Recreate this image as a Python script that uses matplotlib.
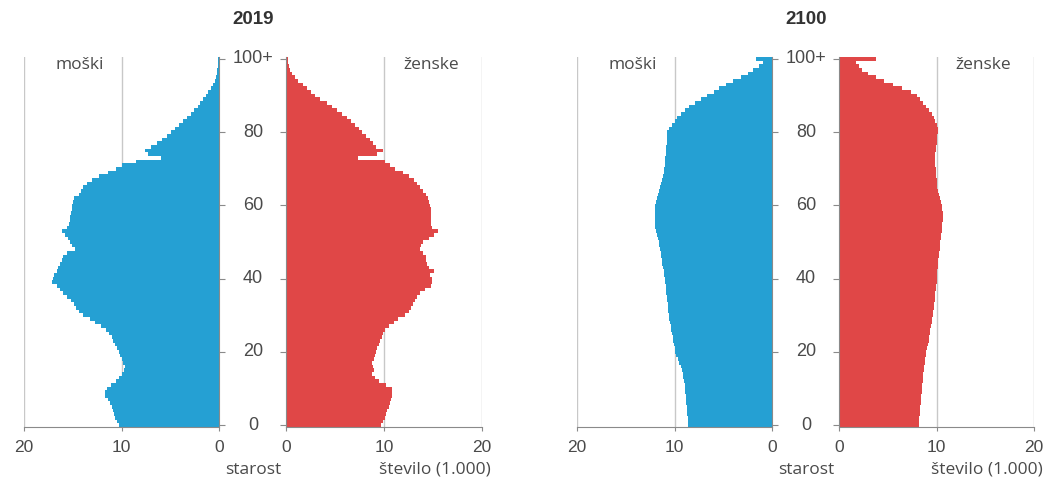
import matplotlib
matplotlib.use("Agg")
import matplotlib.pyplot as plt
import matplotlib.transforms as mtransforms
import numpy as np

# ---------------- data (thousands of persons by single year of age) -------------
ages = list(range(0, 101))
age_tick_values = [0, 20, 40, 60, 80, 100]
age_tick_labels = ["0", "20", "40", "60", "80", "100+"]
count_ticks = [0, 10, 20]
count_tick_labels = ["0", "10", "20"]
years = ["2019", "2100"]

men_2019 = [
    10.3, 10.5, 10.7, 10.8, 10.9, 11.0, 11.2, 11.4, 11.7, 11.7,
    11.5, 11.1, 10.6, 10.3, 10.0, 9.7, 9.6, 9.8, 10.0, 10.2,
    10.3, 10.5, 10.7, 10.9, 11.0, 11.3, 11.6, 12.1, 12.7, 13.2,
    13.9, 14.4, 14.7, 14.9, 15.2, 15.6, 16.0, 16.3, 16.6, 17.1,
    17.0, 16.9, 16.6, 16.5, 16.3, 16.1, 16.0, 15.6, 14.8, 15.1,
    15.3, 15.5, 15.8, 16.1, 15.6, 15.4, 15.3, 15.3, 15.2, 15.1,
    15.1, 15.0, 14.9, 14.4, 14.2, 13.9, 13.5, 13.0, 12.3, 11.4,
    10.6, 9.9, 8.5, 6.0, 7.3, 7.6, 7.0, 6.4, 5.8, 5.3,
    4.9, 4.5, 4.1, 3.7, 3.3, 2.9, 2.6, 2.2, 1.9, 1.6,
    1.3, 1.1, 0.85, 0.65, 0.4, 0.3, 0.25, 0.2, 0.15, 0.1,
    0.15,
]
women_2019 = [
    9.7, 9.9, 10.1, 10.2, 10.3, 10.5, 10.6, 10.7, 10.8, 10.8,
    10.8, 10.2, 9.5, 9.1, 8.8, 9.0, 8.9, 8.8, 9.0, 9.1,
    9.2, 9.3, 9.5, 9.6, 9.8, 9.9, 10.1, 10.5, 11.0, 11.4,
    12.1, 12.5, 12.8, 13.0, 13.2, 13.4, 13.7, 14.2, 14.8, 14.9,
    14.9, 14.7, 15.1, 14.6, 14.4, 14.3, 14.3, 14.0, 13.7, 13.8,
    14.0, 14.6, 15.1, 15.5, 14.9, 14.8, 14.8, 14.8, 14.8, 14.8,
    14.7, 14.6, 14.5, 14.3, 14.0, 13.7, 13.4, 13.1, 12.6, 11.9,
    11.1, 10.6, 10.1, 7.3, 9.3, 9.9, 9.2, 8.9, 8.6, 8.2,
    7.8, 7.4, 7.0, 6.6, 6.2, 5.7, 5.2, 4.7, 4.2, 3.5,
    3.0, 2.5, 2.1, 1.7, 1.2, 0.9, 0.65, 0.45, 0.3, 0.2,
    0.2,
]
men_2100 = [
    8.6, 8.6, 8.65, 8.7, 8.7, 8.75, 8.8, 8.8, 8.85, 8.9,
    8.9, 8.95, 9.0, 9.1, 9.15, 9.2, 9.35, 9.5, 9.65, 9.8,
    9.9, 10.0, 10.1, 10.15, 10.2, 10.3, 10.35, 10.4, 10.5, 10.55,
    10.6, 10.65, 10.7, 10.7, 10.75, 10.8, 10.85, 10.9, 10.9, 10.95,
    11.0, 11.05, 11.1, 11.2, 11.25, 11.3, 11.35, 11.4, 11.5, 11.55,
    11.6, 11.7, 11.8, 11.9, 11.95, 12.0, 12.05, 12.05, 12.05, 12.0,
    12.0, 11.9, 11.8, 11.7, 11.6, 11.5, 11.4, 11.3, 11.15, 11.1,
    11.05, 11.0, 11.0, 10.95, 10.9, 10.85, 10.85, 10.8, 10.8, 10.75,
    10.75, 10.55, 10.3, 10.0, 9.7, 9.3, 8.9, 8.5, 7.9, 7.3,
    6.7, 6.0, 5.4, 4.7, 4.0, 3.2, 2.5, 2.0, 1.3, 0.9,
    1.6,
]
women_2100 = [
    8.2, 8.2, 8.25, 8.3, 8.3, 8.35, 8.4, 8.4, 8.45, 8.5,
    8.5, 8.55, 8.6, 8.6, 8.65, 8.7, 8.75, 8.8, 8.85, 8.9,
    8.95, 9.0, 9.1, 9.2, 9.25, 9.3, 9.35, 9.45, 9.5, 9.55,
    9.6, 9.65, 9.7, 9.75, 9.8, 9.8, 9.85, 9.9, 9.95, 10.0,
    10.0, 10.05, 10.1, 10.15, 10.2, 10.2, 10.25, 10.3, 10.35, 10.4,
    10.4, 10.45, 10.5, 10.55, 10.6, 10.6, 10.65, 10.65, 10.65, 10.6,
    10.6, 10.5, 10.4, 10.3, 10.2, 10.1, 10.05, 10.0, 9.95, 9.9,
    9.9, 9.85, 9.85, 9.85, 9.85, 9.9, 9.95, 10.0, 10.05, 10.1,
    10.2, 10.15, 10.0, 9.85, 9.7, 9.5, 9.2, 8.9, 8.6, 8.3,
    8.0, 7.4, 6.5, 5.5, 4.6, 3.8, 3.0, 2.4, 2.0, 1.7,
    3.8,
]

men = [men_2019, men_2100]
women = [women_2019, women_2100]

# ---------------- styling ----------------
BLUE = "#25A0D3"
RED = "#E04747"
AXIS = "#8a8a8a"
GRID = "#c8c8c8"
TXT = "#4a4a4a"
NUM_FONT = ["Liberation Sans", "DejaVu Sans"]
LBL_FONT = ["Open Sans", "DejaVu Sans"]

W, H = 1046, 480
fig = plt.figure(figsize=(W / 100, H / 100), dpi=100)
fig.patch.set_facecolor("white")

def fx(px):
    return px / W

def fy(py):
    return 1 - py / H

top_px, bot_px = 57, 427
panels = [
    dict(male=(24, 219), female=(286, 482), center=253),
    dict(male=(577, 772), female=(839, 1034), center=806),
]

for i, p in enumerate(panels):
    m0, m1 = p["male"]
    f0, f1 = p["female"]
    axm = fig.add_axes([fx(m0), fy(bot_px), fx(m1 - m0), fy(top_px) - fy(bot_px)])
    axf = fig.add_axes([fx(f0), fy(bot_px), fx(f1 - f0), fy(top_px) - fy(bot_px)])

    axm.barh(ages, men[i], height=1.0, color=BLUE, linewidth=0, antialiased=False, zorder=2)
    axf.barh(ages, women[i], height=1.0, color=RED, linewidth=0, antialiased=False, zorder=2)

    for ax in (axm, axf):
        ax.set_ylim(-0.5, 100.5)
        ax.set_xticks(count_ticks)
        ax.set_xticklabels(count_tick_labels, fontfamily=NUM_FONT, fontsize=12.5, color=TXT)
        ax.tick_params(axis="x", length=3, width=0.8, color=AXIS, pad=6)
        ax.spines["top"].set_visible(False)
        ax.spines["bottom"].set_color(AXIS)
        ax.spines["bottom"].set_linewidth(0.8)
        for g in (10, 20):
            ax.axvline(g, color=GRID, linewidth=1.0, zorder=1)
        ax.set_facecolor("none")

    axm.set_xlim(20, 0)
    axf.set_xlim(0, 20)

    axm.spines["left"].set_visible(False)
    axm.spines["right"].set_color(AXIS)
    axm.spines["right"].set_linewidth(0.8)
    axm.yaxis.tick_right()
    axm.set_yticks(age_tick_values)
    axm.set_yticklabels([])
    axm.tick_params(axis="y", direction="out", length=4, width=0.8, color=AXIS)

    axf.spines["right"].set_visible(False)
    axf.spines["left"].set_color(AXIS)
    axf.spines["left"].set_linewidth(0.8)
    axf.set_yticks(age_tick_values)
    axf.set_yticklabels([])
    axf.tick_params(axis="y", direction="out", length=4, width=0.8, color=AXIS)

    # age labels centred between the halves
    trans = mtransforms.blended_transform_factory(fig.transFigure, axf.transData)
    for v, lab in zip(age_tick_values, age_tick_labels):
        fig.text(fx(p["center"]), v, lab, transform=trans, ha="center", va="center",
                 fontsize=13, color=TXT, fontfamily=NUM_FONT)

    # titles and labels
    fig.text(fx(p["center"]), fy(20), years[i], ha="center", va="center",
             fontsize=13.5, fontweight="bold", color="#333333", fontfamily=NUM_FONT)
    fig.text(fx(m0 + 56), fy(65), "moški", ha="center", va="center",
             fontsize=12.5, color=TXT, fontfamily=LBL_FONT)
    fig.text(fx(f1 - 51), fy(65), "ženske", ha="center", va="center",
             fontsize=12.5, color=TXT, fontfamily=LBL_FONT)
    fig.text(fx(p["center"]), fy(470), "starost", ha="center", va="center",
             fontsize=12.5, color=TXT, fontfamily=LBL_FONT)
    fig.text(fx(f1 + 9), fy(470), "število (1.000)", ha="right", va="center",
             fontsize=12.5, color=TXT, fontfamily=LBL_FONT)

fig.savefig("out.png", dpi=100, facecolor="white")
